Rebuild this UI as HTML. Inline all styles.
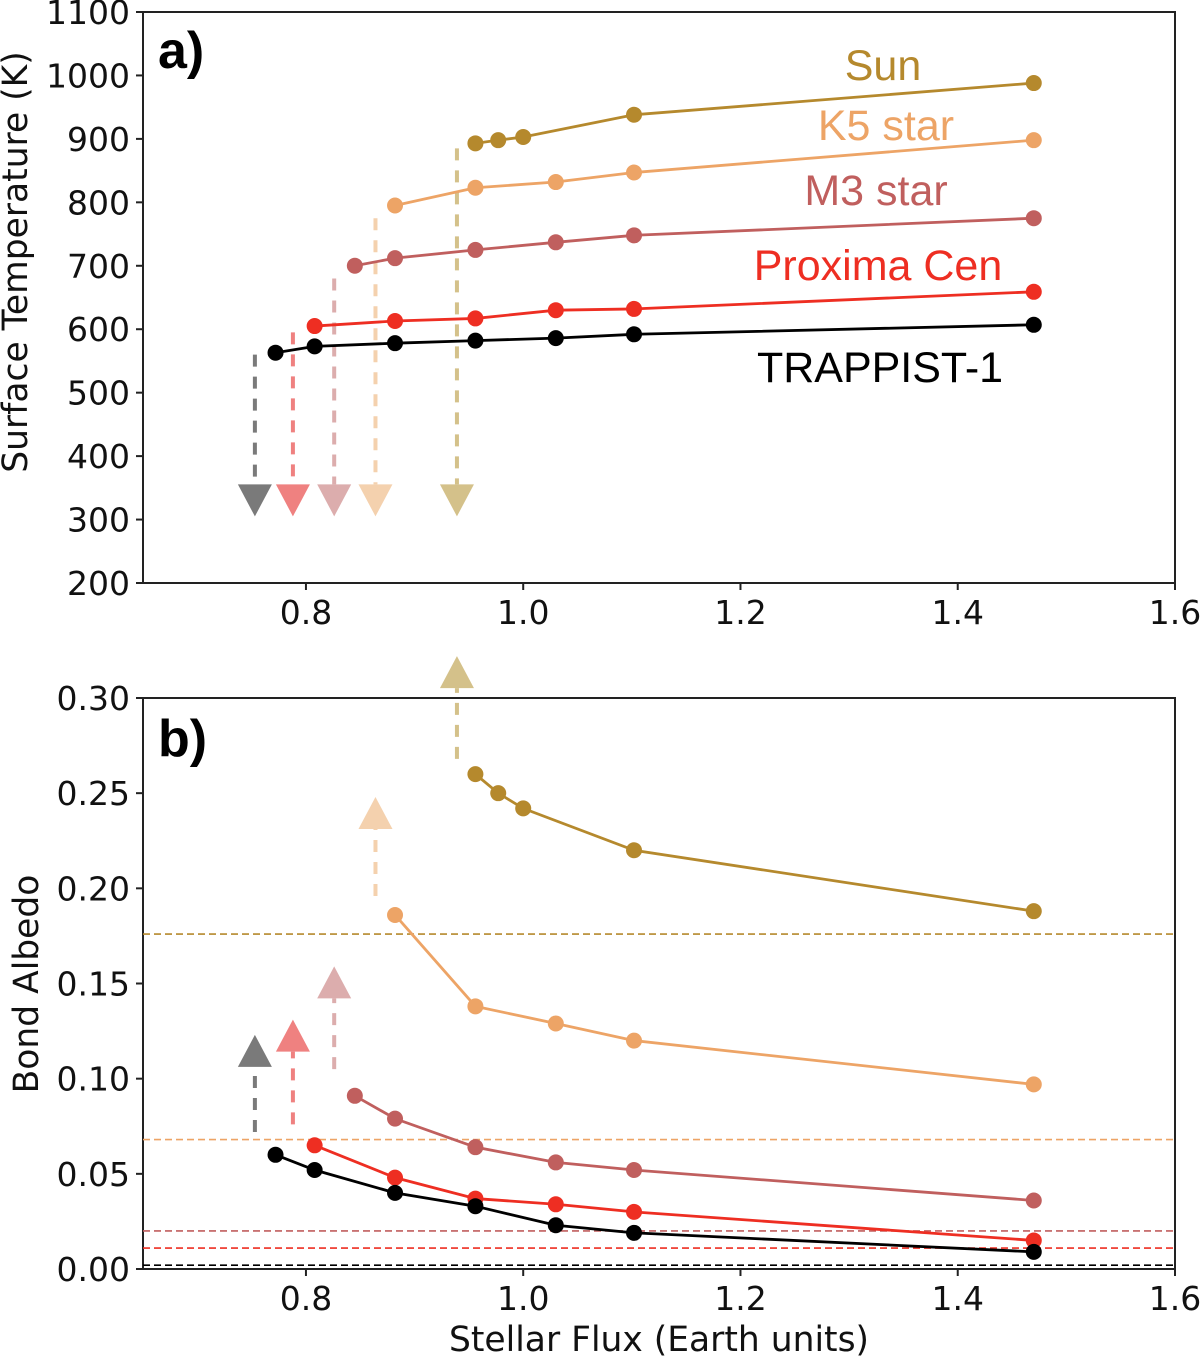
<!DOCTYPE html>
<html><head><meta charset="utf-8"><style>
html,body{margin:0;padding:0;background:#fff;}
svg{display:block;font-family:"DejaVu Sans","Liberation Sans",sans-serif;}
</style></head><body>
<svg id="fig" width="1200" height="1358" viewBox="0 0 1200 1358"></svg>
<script>
const fluxT = [0.772,0.808,0.882,0.956,1.030,1.102,1.470];
const fluxP = [0.808,0.882,0.956,1.030,1.102,1.470];
const fluxM = [0.845,0.882,0.956,1.030,1.102,1.470];
const fluxK = [0.882,0.956,1.030,1.102,1.470];
const fluxS = [0.956,0.977,1.000,1.102,1.470];
const tempT = [563,573,578,582,586,592,607];
const tempP = [605,613,617,630,632,659];
const tempM = [700,712,725,737,748,775];
const tempK = [795,823,832,847,898];
const tempS = [893,898,903,938,988];
const albT = [0.060,0.052,0.040,0.033,0.023,0.019,0.009];
const albP = [0.065,0.048,0.037,0.034,0.030,0.015];
const albM = [0.091,0.079,0.064,0.056,0.052,0.036];
const albK = [0.186,0.138,0.129,0.120,0.097];
const albS = [0.260,0.250,0.242,0.220,0.188];
const arrowX = [0.753,0.788,0.826,0.864,0.939];
const arrowTempStart = [560,595,680,775,885];
const arrowTempTip = [305,305,305,305,305];
const arrowAlbStart = [0.072,0.076,0.105,0.196,0.268];
const arrowAlbTip = [0.123,0.131,0.159,0.248,0.322];
const hlineAlb = [0.002,0.011,0.020,0.068,0.176];
const xTicks = [0.8,1.0,1.2,1.4,1.6];
const xTickLabels = ["0.8","1.0","1.2","1.4","1.6"];
const tTicks = [200,300,400,500,600,700,800,900,1000,1100];
const aTicks = [0,0.05,0.10,0.15,0.20,0.25,0.30];
const aTickLabels = ["0.00","0.05","0.10","0.15","0.20","0.25","0.30"];
const seriesNames = ["TRAPPIST-1","Proxima Cen","M3 star","K5 star","Sun"];

const colors = ["#000000","#ee2e22","#c05f5e","#eda466","#b5892d"];
const fadeColors = ["#7a7a7a","#ef8180","#dcadad","#f4d1ae","#d4c18a"];
const NS="http://www.w3.org/2000/svg";
const svg=document.getElementById('fig');
function mk(tag,attrs,parent){const e=document.createElementNS(NS,tag);for(const k in attrs)e.setAttribute(k,attrs[k]);(parent||svg).appendChild(e);return e;}
const L=143,R=1175;
const X=v=>L+(v-0.65)/(0.95)*(R-L);
const YA=v=>583-(v-200)/900*(583-12);
const YB=v=>1269-v/0.30*(1269-698);

const defs=mk('defs',{});
const c1=mk('clipPath',{id:'ca'},defs);mk('rect',{x:L,y:12,width:R-L,height:571},c1);
const c2=mk('clipPath',{id:'cb'},defs);mk('rect',{x:L,y:698,width:R-L,height:571},c2);

function axes(top,bottom,yTicks,yLabels,Yf,name,ylabel,ylx,yly){
  const g=mk('g',{});
  
  
  const fr=mk('rect',{x:L,y:top,width:R-L,height:bottom-top,fill:'none',stroke:'#222','stroke-width':2},g);
  
  
  xTicks.forEach((t,i)=>{
    mk('line',{x1:X(t),x2:X(t),y1:bottom,y2:bottom+7,stroke:'#222','stroke-width':2},g);
    const tx=mk('text',{x:X(t),y:bottom+41,'font-size':33,'text-anchor':'middle',fill:'#111'},g);
    tx.textContent=xTickLabels[i];
    
    
  });
  yTicks.forEach((t,i)=>{
    mk('line',{x1:L-7,x2:L,y1:Yf(t),y2:Yf(t),stroke:'#222','stroke-width':2},g);
    const tx=mk('text',{x:L-13,y:Yf(t)+12,'font-size':33,'text-anchor':'end',fill:'#111'},g);
    tx.textContent=yLabels[i];
    
    
  });
  const yl=mk('text',{x:0,y:0,'font-size':34.5,'text-anchor':'middle',fill:'#111',transform:`translate(${ylx},${yly}) rotate(-90)`},g);
  yl.textContent=ylabel;
  
  
}
axes(12,583,tTicks,tTicks.map(String),YA,'panel-a','Surface Temperature (K)',27,262);
axes(698,1269,aTicks,aTickLabels,YB,'panel-b','Bond Albedo',38,984);

hlineAlb.forEach((v,i)=>{
  const l=mk('line',{x1:L,x2:R,y1:YB(v),y2:YB(v),stroke:colors[i],'stroke-width':1.6,'stroke-dasharray':'7 4','clip-path':'url(#cb)'});
  
  
});

function arrows(startArr,tipArr,Yf,down,clip,name){
  arrowX.forEach((xv,i)=>{
    const x=X(xv),ys=Yf(startArr[i]),yt=Yf(tipArr[i]);
    const base= down? yt-32 : yt+32;
    const l=mk('line',{x1:x,x2:x,y1:ys,y2:base,stroke:fadeColors[i],'stroke-width':4,'stroke-dasharray':'12 10','clip-path':clip});
    
    
    const p=mk('polygon',{points:`${x-17},${base} ${x+17},${base} ${x},${yt}`,fill:fadeColors[i],'clip-path':down?clip:'none'});
    
    
  });
}
arrows(arrowTempStart,arrowTempTip,YA,true,'url(#ca)','panel-a');
arrows(arrowAlbStart,arrowAlbTip,YB,false,'none','panel-b');

function series(xs,ys,Yf,col,name){
  const g=mk('g',{});
  
  
  mk('polyline',{points:xs.map((x,i)=>X(x)+','+Yf(ys[i])).join(' '),fill:'none',stroke:col,'stroke-width':2.8},g);
  xs.forEach((x,i)=>{
    const c=mk('circle',{cx:X(x),cy:Yf(ys[i]),r:8,fill:col},g);
    
    
  });
}
const fx=[fluxT,fluxP,fluxM,fluxK,fluxS];
const tp=[tempT,tempP,tempM,tempK,tempS];
const al=[albT,albP,albM,albK,albS];
for(let i=4;i>=0;i--){
  series(fx[i],tp[i],YA,colors[i],'temp-series-'+i);
  series(fx[i],al[i],YB,colors[i],'albedo-series-'+i);
}
const labY=[367,265,190,125,65];
const labX=[880,878,876,886,883];
seriesNames.forEach((n,i)=>{
  const t=mk('text',{x:labX[i],y:labY[i]+15,'font-size':43,'text-anchor':'middle','font-family':'Liberation Sans,sans-serif',fill:colors[i]});
  t.textContent=n;
  
  
});
const pa=mk('text',{x:158,y:68,'font-size':52,'font-weight':'bold','font-family':'Liberation Sans,sans-serif',fill:'#000'});
pa.textContent='a)';


const pb=mk('text',{x:158,y:756,'font-size':52,'font-weight':'bold','font-family':'Liberation Sans,sans-serif',fill:'#000'});
pb.textContent='b)';


const xt=mk('text',{x:659,y:1351,'font-size':34.5,'text-anchor':'middle',fill:'#111'});
xt.textContent='Stellar Flux (Earth units)';


</script>
</body></html>
